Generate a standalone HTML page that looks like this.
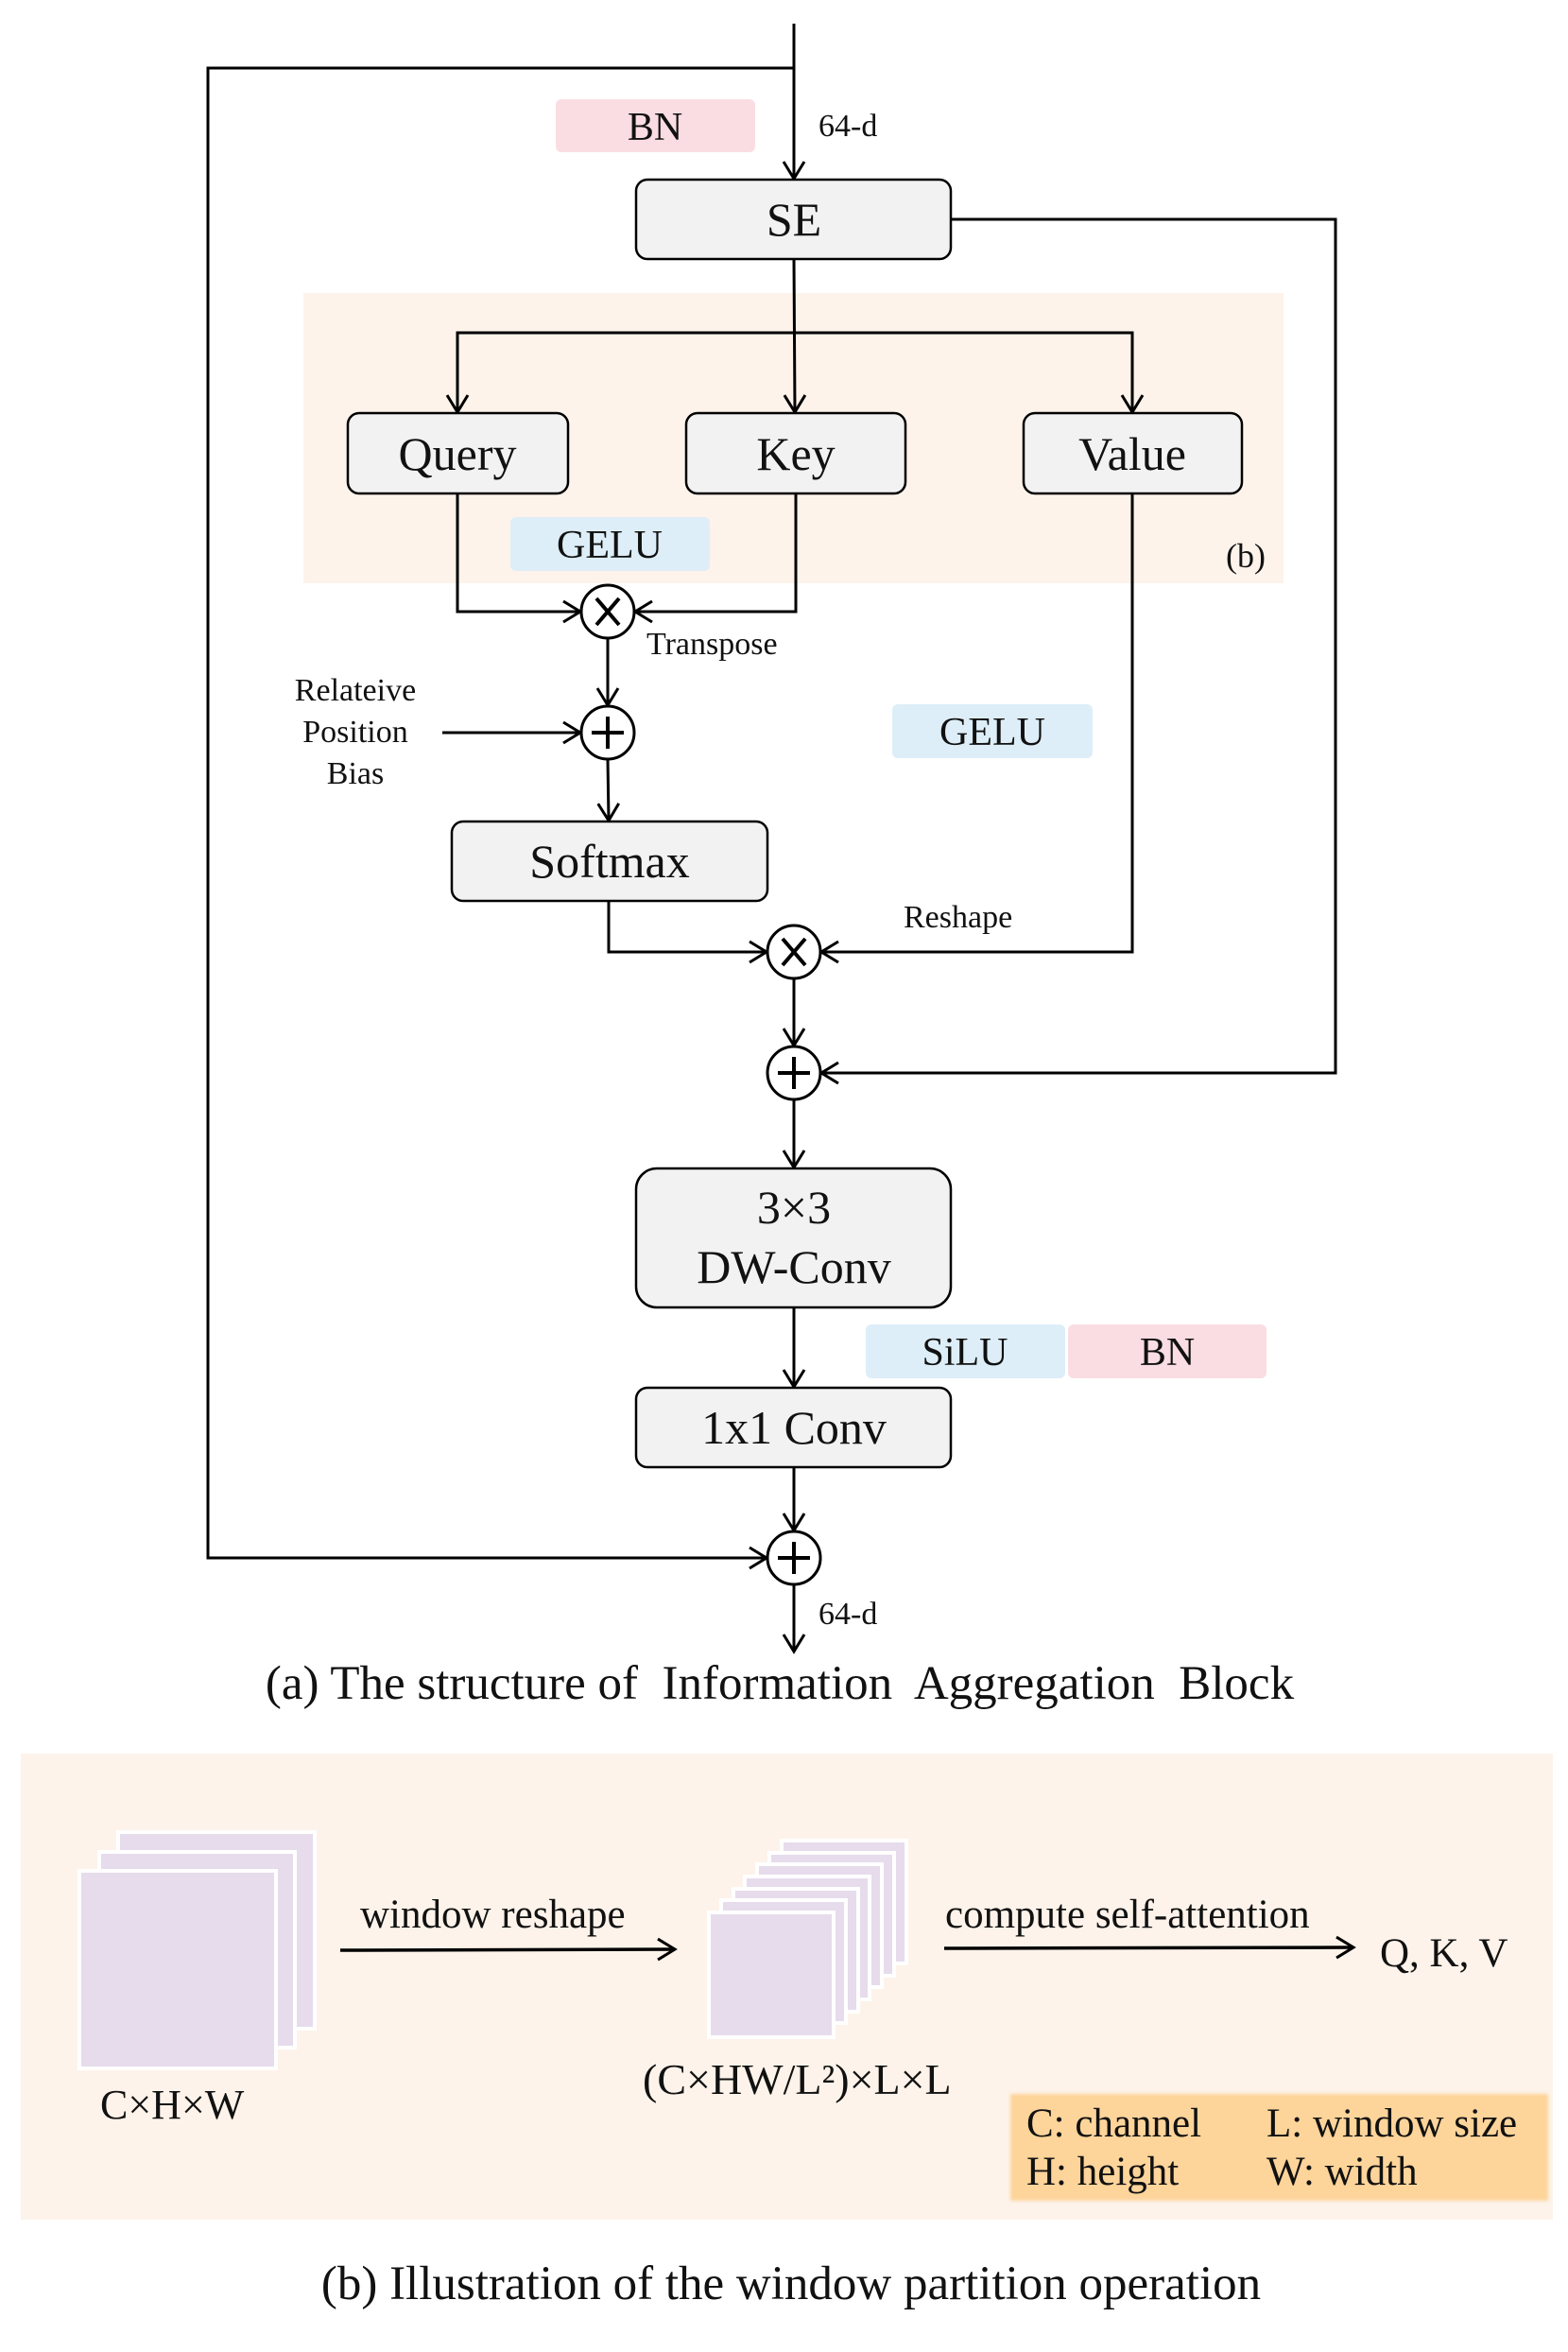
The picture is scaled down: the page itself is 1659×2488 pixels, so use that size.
<!DOCTYPE html>
<html><head><meta charset="utf-8"><style>
html,body{margin:0;padding:0;background:#fff}
svg{display:block}
text{font-family:"Liberation Serif",serif;fill:#111}
</style></head><body>
<svg width="1659" height="2488" viewBox="0 0 1659 2488" xmlns="http://www.w3.org/2000/svg">
<defs>
<marker id="a" markerWidth="30" markerHeight="30" refX="24" refY="15" orient="auto" markerUnits="userSpaceOnUse">
<polyline points="6,4 24,15 6,26" fill="none" stroke="#000" stroke-width="3"/>
</marker>
</defs>
<rect x="321" y="310" width="1037" height="307" fill="#fdf3ea"/>
<rect x="588" y="105" width="211" height="56" rx="6" fill="#fadde2"/>
<rect x="540" y="547" width="211" height="57" rx="6" fill="#ddeef8"/>
<rect x="944" y="745" width="212" height="57" rx="6" fill="#ddeef8"/>
<rect x="916" y="1401" width="211" height="57" rx="6" fill="#ddeef8"/>
<rect x="1130" y="1401" width="210" height="57" rx="6" fill="#fadde2"/>
<g font-size="42" text-anchor="middle">
<text x="693" y="148">BN</text>
<text x="645" y="590">GELU</text>
<text x="1050" y="788">GELU</text>
<text x="1021" y="1444">SiLU</text>
<text x="1235" y="1444">BN</text>
</g>
<text x="1318" y="600" font-size="36" text-anchor="middle">(b)</text>

<g fill="none" stroke="#000" stroke-width="3">
<line x1="840" y1="25" x2="840" y2="189" marker-end="url(#a)"/>
<polyline points="840,72 220,72 220,1648 811,1648" marker-end="url(#a)"/>
<polyline points="1006,232 1413,232 1413,1135 869,1135" marker-end="url(#a)"/>
<line x1="840" y1="274" x2="841" y2="436" marker-end="url(#a)"/>
<polyline points="484,436 484,352 1198,352 1198,436" marker-end="url(#a)"/>
<line x1="484" y1="352" x2="484" y2="436" marker-end="url(#a)"/>
<polyline points="484,522 484,647 614,647" marker-end="url(#a)"/>
<polyline points="842,522 842,647 672,647" marker-end="url(#a)"/>
<line x1="643" y1="675" x2="643" y2="746" marker-end="url(#a)"/>
<line x1="468" y1="775" x2="614" y2="775" marker-end="url(#a)"/>
<line x1="643" y1="803" x2="644" y2="868" marker-end="url(#a)"/>
<polyline points="644,953 644,1007 811,1007" marker-end="url(#a)"/>
<polyline points="1198,522 1198,1007 869,1007" marker-end="url(#a)"/>
<line x1="840" y1="1035" x2="840" y2="1106" marker-end="url(#a)"/>
<line x1="840" y1="1164" x2="840" y2="1235" marker-end="url(#a)"/>
<line x1="840" y1="1383" x2="840" y2="1467" marker-end="url(#a)"/>
<line x1="840" y1="1552" x2="840" y2="1619" marker-end="url(#a)"/>
<line x1="840" y1="1677" x2="840" y2="1747" marker-end="url(#a)"/>
</g>

<g fill="#f2f2f2" stroke="#000" stroke-width="2.5">
<rect x="673" y="190" width="333" height="84" rx="12"/>
<rect x="368" y="437" width="233" height="85" rx="12"/>
<rect x="726" y="437" width="232" height="85" rx="12"/>
<rect x="1083" y="437" width="231" height="85" rx="12"/>
<rect x="478" y="869" width="334" height="84" rx="12"/>
<rect x="673" y="1236" width="333" height="147" rx="22"/>
<rect x="673" y="1468" width="333" height="84" rx="12"/>
</g>
<g font-size="50" text-anchor="middle">
<text x="840" y="249">SE</text>
<text x="484" y="497">Query</text>
<text x="842" y="497">Key</text>
<text x="1198" y="497">Value</text>
<text x="645" y="928">Softmax</text>
<text x="840" y="1294">3×3</text>
<text x="840" y="1357">DW-Conv</text>
<text x="840" y="1527">1x1 Conv</text>
</g>

<g fill="#fff" stroke="#000" stroke-width="3">
<circle cx="643" cy="647" r="28"/>
<circle cx="643" cy="775" r="28"/>
<circle cx="840" cy="1007" r="28"/>
<circle cx="840" cy="1135" r="28"/>
<circle cx="840" cy="1648" r="28"/>
</g>
<g stroke="#000" stroke-width="4">
<line x1="631" y1="633" x2="655" y2="661"/><line x1="655" y1="633" x2="631" y2="661"/>
<line x1="828" y1="993" x2="852" y2="1021"/><line x1="852" y1="993" x2="828" y2="1021"/>
<line x1="626" y1="775" x2="660" y2="775"/><line x1="643" y1="758" x2="643" y2="792"/>
<line x1="823" y1="1135" x2="857" y2="1135"/><line x1="840" y1="1118" x2="840" y2="1152"/>
<line x1="823" y1="1648" x2="857" y2="1648"/><line x1="840" y1="1631" x2="840" y2="1665"/>
</g>

<g font-size="34">
<text x="866" y="144">64-d</text>
<text x="684" y="692">Transpose</text>
<text x="376" y="741" text-anchor="middle">Relateive</text>
<text x="376" y="785" text-anchor="middle">Position</text>
<text x="376" y="829" text-anchor="middle">Bias</text>
<text x="956" y="981">Reshape</text>
<text x="866" y="1718">64-d</text>
</g>
<text x="825" y="1797" font-size="51" text-anchor="middle" xml:space="preserve">(a) The structure of  Information  Aggregation  Block</text>

<rect x="22" y="1855" width="1621" height="493" fill="#fdf3ea"/>
<g fill="#e6dcec" stroke="#fff" stroke-width="4">
<rect x="125" y="1938" width="208" height="208"/>
<rect x="105" y="1959" width="207" height="207"/>
<rect x="84" y="1979" width="208" height="209"/>
<rect x="827" y="1947" width="132" height="130"/>
<rect x="814" y="1960" width="132" height="130"/>
<rect x="801" y="1972" width="132" height="130"/>
<rect x="788" y="1985" width="132" height="130"/>
<rect x="776" y="1998" width="132" height="130"/>
<rect x="763" y="2010" width="132" height="130"/>
<rect x="750" y="2023" width="132" height="132"/>
</g>
<g fill="none" stroke="#000" stroke-width="3.5">
<line x1="360" y1="2063" x2="714" y2="2062" marker-end="url(#a)"/>
<line x1="999" y1="2061" x2="1432" y2="2060" marker-end="url(#a)"/>
</g>
<g font-size="43">
<text x="381" y="2039">window reshape</text>
<text x="1000" y="2039">compute self-attention</text>
<text x="1460" y="2080">Q, K, V</text>
<text x="106" y="2241" font-size="44">C×H×W</text>
<text x="680" y="2215" font-size="46">(C×HW/L²)×L×L</text>
</g>
<rect x="1069" y="2215" width="569" height="113" fill="#fdd49a" style="filter:blur(1.5px)"/>
<g font-size="43">
<text x="1086" y="2260">C: channel</text>
<text x="1340" y="2260">L: window size</text>
<text x="1086" y="2311">H: height</text>
<text x="1340" y="2311">W: width</text>
</g>
<text x="837" y="2432" font-size="51" text-anchor="middle">(b) Illustration of the window partition operation</text>
</svg>
</body></html>
